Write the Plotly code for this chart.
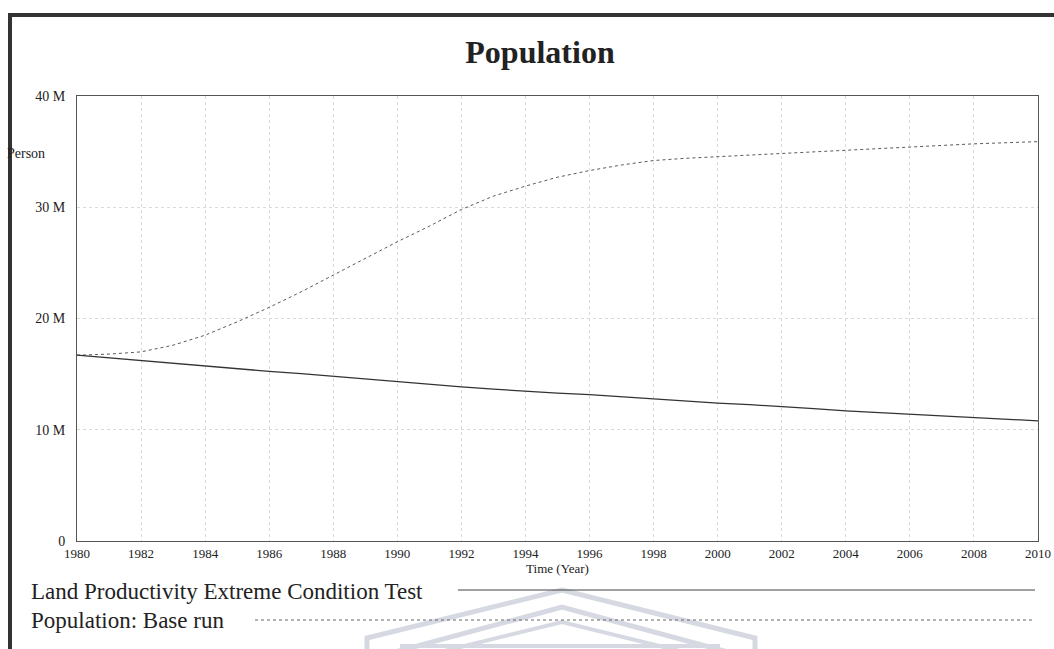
import plotly.graph_objects as go

years = list(range(1980, 2011))
base_run = [16.7, 16.8, 17.0, 17.6, 18.5, 19.7, 21.0, 22.4, 23.9, 25.4, 26.9,
            28.3, 29.8, 31.0, 31.9, 32.7, 33.3, 33.8, 34.2, 34.4, 34.55,
            34.7, 34.85, 35.0, 35.1, 35.25, 35.4, 35.55, 35.7, 35.8, 35.9]
extreme_test = [16.7, 16.45, 16.2, 15.95, 15.7, 15.5, 15.25, 15.05, 14.8, 14.55, 14.3,
                14.05, 13.85, 13.65, 13.45, 13.3, 13.15, 12.95, 12.75, 12.6, 12.4,
                12.25, 12.1, 11.9, 11.7, 11.55, 11.4, 11.25, 11.1, 10.95, 10.8]
series_names = ["Land Productivity Extreme Condition Test", "Population: Base run"]
y_ticks = [0, 10e6, 20e6, 30e6, 40e6]
y_tick_labels = ["0", "10 M", "20 M", "30 M", "40 M"]
x_ticks = list(range(1980, 2011, 2))

W, H = 1054, 649
L, R, T, B = 77, 16, 96, 108
PW, PH = W - L - R, H - T - B

def px(x):
    return (x - L) / PW

def py(y):
    return 1 - (y - T) / PH

SERIF = "Liberation Serif, Times New Roman, serif"

fig = go.Figure()
fig.add_trace(go.Scatter(x=years, y=[v * 1e6 for v in base_run], mode="lines",
                         name=series_names[1],
                         line=dict(color="#5a5a5a", width=1, dash="dot")))
fig.add_trace(go.Scatter(x=years, y=[v * 1e6 for v in extreme_test], mode="lines",
                         name=series_names[0],
                         line=dict(color="#333333", width=1.3)))

shapes = []
# watermark chevrons
wm = "#d6d9e2"
shapes.append(dict(type="path", xref="paper", yref="paper", layer="below",
                   path=f"M {px(367)} {py(652)} L {px(367)} {py(638)} L {px(562)} {py(590)} L {px(755)} {py(638)} L {px(755)} {py(652)}",
                   line=dict(color=wm, width=5)))
shapes.append(dict(type="path", xref="paper", yref="paper", layer="below",
                   path=f"M {px(395)} {py(652)} L {px(562)} {py(607)} L {px(728)} {py(652)}",
                   line=dict(color=wm, width=5)))
shapes.append(dict(type="path", xref="paper", yref="paper", layer="below",
                   path=f"M {px(440)} {py(652)} L {px(562)} {py(622)} L {px(684)} {py(652)}",
                   line=dict(color=wm, width=4)))
shapes.append(dict(type="line", xref="paper", yref="paper", layer="below",
                   x0=px(400), x1=px(720), y0=py(646), y1=py(646),
                   line=dict(color=wm, width=4)))
# outer frame (top and left)
shapes.append(dict(type="line", xref="paper", yref="paper",
                   x0=px(8), x1=px(1060), y0=py(15), y1=py(15),
                   line=dict(color="#333333", width=4)))
shapes.append(dict(type="line", xref="paper", yref="paper",
                   x0=px(10), x1=px(10), y0=py(13), y1=py(660),
                   line=dict(color="#333333", width=4)))
# legend sample lines
shapes.append(dict(type="line", xref="paper", yref="paper",
                   x0=px(458), x1=px(1035), y0=py(590), y1=py(590),
                   line=dict(color="#444444", width=1)))
shapes.append(dict(type="line", xref="paper", yref="paper",
                   x0=px(255), x1=px(1035), y0=py(620), y1=py(620),
                   line=dict(color="#666666", width=1, dash="dot")))

annotations = [
    dict(text="Person", xref="paper", yref="paper", x=px(5), y=py(153),
         xanchor="left", yanchor="middle", showarrow=False,
         font=dict(family=SERIF, size=14, color="#222222")),
    dict(text=series_names[0], xref="paper", yref="paper", x=px(29), y=py(591),
         xanchor="left", yanchor="middle", showarrow=False,
         font=dict(family=SERIF, size=23, color="#222222")),
    dict(text=series_names[1], xref="paper", yref="paper", x=px(29), y=py(620),
         xanchor="left", yanchor="middle", showarrow=False,
         font=dict(family=SERIF, size=23, color="#222222")),
]

fig.update_layout(
    width=W, height=H, autosize=False,
    margin=dict(l=L, r=R, t=T, b=B),
    paper_bgcolor="white", plot_bgcolor="white",
    showlegend=False,
    title=dict(text="<b>Population</b>", x=540 / W, xanchor="center",
               y=1 - 52 / H, yanchor="middle",
               font=dict(family=SERIF, size=32, color="#222222")),
    shapes=shapes,
    annotations=annotations,
    xaxis=dict(range=[1980, 2010], tickvals=x_ticks, ticktext=[str(t) for t in x_ticks],
               automargin=False,
               showgrid=True, gridcolor="#dadada", griddash="dot", gridwidth=1,
               showline=True, linecolor="#555555", linewidth=1, mirror=True,
               zeroline=False, ticks="",
               tickfont=dict(family=SERIF, size=13, color="#222222"),
               title=dict(text="Time (Year)", standoff=2,
                          font=dict(family=SERIF, size=13, color="#222222"))),
    yaxis=dict(range=[0, 40e6], tickvals=y_ticks, ticktext=y_tick_labels,
               automargin=False,
               showgrid=True, gridcolor="#dadada", griddash="dot", gridwidth=1,
               showline=True, linecolor="#555555", linewidth=1, mirror=True,
               zeroline=False, ticks="", ticklabelstandoff=8,
               tickfont=dict(family=SERIF, size=14, color="#222222")),
)

fig.write_html("out.html",
               config={"displayModeBar": False, "responsive": False},
               post_script="document.body.style.margin='0px';document.body.style.overflow='hidden';")
